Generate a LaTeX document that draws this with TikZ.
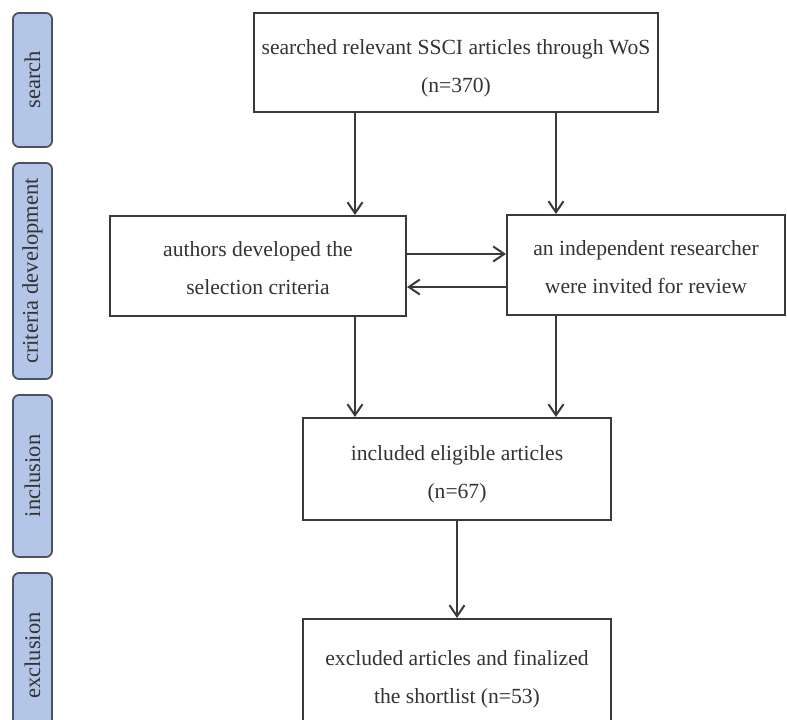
\documentclass[tikz,border=0pt]{standalone}
\usepackage{fontspec}
\setmainfont{Liberation Serif}
\usetikzlibrary{arrows.meta}
\definecolor{ink}{HTML}{333333}
\definecolor{edge}{HTML}{3A3A3A}
\definecolor{stagefill}{HTML}{B4C6E7}
\definecolor{stageedge}{HTML}{4B5262}
\tikzset{
  flowbox/.style={draw=edge, line width=2pt, rectangle, inner sep=0pt},
  flowtext/.style={align=center, text=ink, inner sep=0pt,
    font=\fontsize{21.6}{38}\selectfont},
  stage/.style={draw=stageedge, fill=stagefill, line width=1.8pt,
    rounded corners=6pt, rectangle, inner sep=0pt},
  stagetext/.style={rotate=90, text=ink, inner sep=0pt,
    font=\fontsize{22.5}{26}\selectfont},
  arr/.style={draw=edge, line width=2pt,
    -{Straight Barb[length=11pt,width=15pt,line width=2pt]}}
}
\begin{document}
\begin{tikzpicture}[x=1pt,y=-1pt]
\useasboundingbox (0,0) rectangle (787,720);

% stage labels on the left
\node[stage, minimum width=39pt, minimum height=134pt] (s1) at (32.5,80) {};
\node[stagetext] (s1t) at (s1.center) {search};
\node[stage, minimum width=39pt, minimum height=216pt] (s2) at (32.5,271) {};
\node[stagetext] (s2t) at (s2.center) {criteria development};
\node[stage, minimum width=39pt, minimum height=162pt] (s3) at (32.5,476) {};
\node[stagetext] (s3t) at (s3.center) {inclusion};
\node[stage, minimum width=39pt, minimum height=165pt] (s4) at (32.5,655.5) {};
\node[stagetext] (s4t) at (s4.center) {exclusion};

% process boxes
\node[flowbox, minimum width=404pt, minimum height=99pt] (top) at (456,62.5) {};
\node[flowtext] (topt) at ([yshift=-6pt]top.center)
  {searched relevant SSCI articles through WoS\\(n=370)};
\node[flowbox, minimum width=296pt, minimum height=100pt] (dev) at (258,266) {};
\node[flowtext] (devt) at ([yshift=-2pt]dev.center)
  {authors developed the\\selection criteria};
\node[flowbox, minimum width=278pt, minimum height=100pt] (rev) at (646,265) {};
\node[flowtext] (revt) at ([yshift=-2pt]rev.center)
  {an independent researcher\\were invited for review};
\node[flowbox, minimum width=308pt, minimum height=102pt] (inc) at (457,469) {};
\node[flowtext] (inct) at ([yshift=-5pt]inc.center)
  {included eligible articles\\(n=67)};
\node[flowbox, minimum width=308pt, minimum height=116pt] (exc) at (457,677) {};
\node[flowtext] (exct) at ([yshift=-2pt]exc.center)
  {excluded articles and finalized\\the shortlist (n=53)};

% connector columns
\coordinate (cl) at (355,0);
\coordinate (cr) at (556,0);
\coordinate (rowa) at (0,254);
\coordinate (rowb) at (0,287);

\draw[arr] (top.south -| cl) -- (dev.north -| cl);
\draw[arr] (top.south -| cr) -- (rev.north -| cr);
\draw[arr] (dev.east |- rowa) -- (rev.west |- rowa);
\draw[arr] (rev.west |- rowb) -- (dev.east |- rowb);
\draw[arr] (dev.south -| cl) -- (inc.north -| cl);
\draw[arr] (rev.south -| cr) -- (inc.north -| cr);
\draw[arr] (inc.south) -- (exc.north);
\end{tikzpicture}
\end{document}
